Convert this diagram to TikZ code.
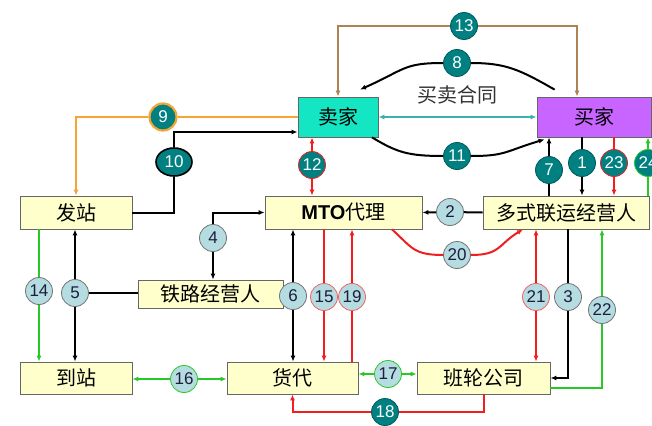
\documentclass[tikz,border=0pt]{standalone}
\usepackage{fontspec}
\setmainfont{Liberation Sans}
\newfontfamily\cjk{Noto Sans CJK SC}
\newfontfamily\latin{Liberation Sans}
\usetikzlibrary{arrows.meta,shapes.geometric,calc}

\definecolor{boxyellow}{RGB}{255,255,204}
\definecolor{sellercol}{RGB}{20,230,195}
\definecolor{buyercol}{RGB}{200,100,255}
\definecolor{darkteal}{RGB}{0,128,128}
\definecolor{lightblue}{RGB}{180,220,225}
\definecolor{arrorange}{RGB}{245,165,50}
\definecolor{arrbrown}{RGB}{175,130,85}
\definecolor{arrgreen}{RGB}{40,200,40}
\definecolor{arrred}{RGB}{240,30,30}
\definecolor{arrcyan}{RGB}{60,175,175}
\definecolor{numdark}{RGB}{30,30,60}

\tikzset{
  plainbox/.style={draw=black!60, line width=0.8pt, fill=boxyellow, minimum height=33pt,
    inner sep=0pt, font=\cjk\fontsize{20}{20}\selectfont},
  darknum/.style={circle, draw=darkteal!70!black, line width=0.8pt, fill=darkteal, text=white,
    minimum size=27pt, inner sep=0pt, font=\fontsize{17}{17}\selectfont},
  lightnum/.style={circle, draw=black!55, line width=0.8pt, fill=lightblue, text=numdark,
    minimum size=27pt, inner sep=0pt, font=\fontsize{17}{17}\selectfont},
  link/.style={line width=2pt},
  arr/.style={-{Latex[length=6pt,width=5pt]}},
  arrtwo/.style={{Latex[length=6pt,width=5pt]}-{Latex[length=6pt,width=5pt]}},
}

\begin{document}
\begin{tikzpicture}[x=1pt,y=-1pt]

  \fill[white] (0,0) rectangle (652,425);
  \useasboundingbox (0,0) rectangle (652,425);

  % boxes
  \node[plainbox, fill=sellercol, minimum width=80pt, minimum height=40pt] (seller) at (338,117) {卖家};
  \node[plainbox, fill=buyercol, minimum width=114pt, minimum height=40pt] (buyer) at (594,117) {买家};
  \node[plainbox, minimum width=112pt] (fazhan) at (76,212.5) {发站};
  \node[plainbox, minimum width=157pt] (mto) at (343.5,212.5) {{\latin\bfseries MTO}代理};
  \node[plainbox, minimum width=166pt] (duoshi) at (566,212.5) {多式联运经营人};
  \node[plainbox, minimum width=145pt, minimum height=28pt] (tielu) at (210.5,294) {铁路经营人};
  \node[plainbox, minimum width=112pt, minimum height=32pt] (daozhan) at (76,378) {到站};
  \node[plainbox, minimum width=131pt, minimum height=32pt] (huodai) at (292.5,378) {货代};
  \node[plainbox, minimum width=133pt, minimum height=32pt] (banlun) at (483.5,378) {班轮公司};

  \node[font=\cjk\fontsize{20}{20}\selectfont, text=black!80] (contract) at (457,95) {买卖合同};

  % numbers
  \node[darknum] (n13) at (464,26) {13};
  \node[darknum] (n8) at (457,63) {8};
  \node[darknum] (n11) at (457,156) {11};
  \node[darknum, draw=arrorange, line width=2.2pt] (n9) at (163,117) {9};
  \node[ellipse, draw=black, line width=1.6pt, fill=darkteal, text=white, minimum width=36pt,
    minimum height=28pt, inner sep=0pt, font=\fontsize{17}{17}\selectfont] (n10) at (174,162) {10};
  \node[darknum, draw=arrred] (n12) at (312,165) {12};
  \node[darknum] (n7) at (549,170) {7};
  \node[darknum] (n1) at (582,163) {1};
  \node[darknum, draw=arrred] (n23) at (614,163) {23};
  \node[darknum, draw=arrgreen] (n24) at (648,163) {24};
  \node[lightnum] (n2) at (450,212) {2};
  \node[lightnum] (n20) at (457,255) {20};
  \node[lightnum] (n4) at (213,238) {4};
  \node[lightnum] (n5) at (75,293) {5};
  \node[lightnum] (n14) at (39,291) {14};
  \node[lightnum] (n6) at (293,296) {6};
  \node[lightnum, draw=arrred!70] (n15) at (324,297) {15};
  \node[lightnum, draw=arrred!70] (n19) at (352,297) {19};
  \node[lightnum, draw=arrred!70] (n21) at (536,297) {21};
  \node[lightnum] (n3) at (568,297) {3};
  \node[lightnum] (n22) at (602,310) {22};
  \node[lightnum, draw=arrgreen] (n16) at (184,379) {16};
  \node[lightnum, draw=arrgreen] (n17) at (388,374) {17};
  \node[darknum] (n18) at (385,412) {18};

  % seller / buyer
  \draw[link, arrbrown, arr] (n13) -| (seller.north);
  \draw[link, arrbrown, arr] (n13) -| ([xshift=-17pt]buyer.north);
  \coordinate (s8) at ([xshift=18pt,yshift=7pt]buyer.north west);
  \coordinate (e8) at ([xshift=22pt,yshift=7pt]seller.north);
  \draw[link] (s8) .. controls +(-35,-20) and +(35,0) .. (n8.east);
  \draw[link, arr] (n8.west) .. controls +(-40,0) and +(45,-20) .. (e8);
  \draw[line width=1.5pt, arrcyan, arrtwo] (seller.east) -- (buyer.west);
  \coordinate (s11) at ([xshift=34pt]seller.south);
  \coordinate (e11) at ([xshift=8pt,yshift=-2pt]buyer.south west);
  \draw[link] (s11) .. controls +(25,15) and +(-35,0) .. (n11.west);
  \draw[link, arr] (n11.east) .. controls +(35,0) and +(-40,12) .. (e11);

  % left side
  \draw[link, arrorange] (seller.west) -- (n9);
  \draw[link, arrorange, arr] (n9) -| (fazhan.north);
  \draw[link] (fazhan.east) -| (n10);
  \draw[link, arr] (n10) |- ([yshift=-15pt]seller.west);
  \draw[link, arrred, arr] (n12) -- (seller.south -| n12);
  \draw[link, arrred, arr] (n12) -- (mto.north -| n12);

  % buyer / operator
  \draw[link] (duoshi.north -| n7) -- (n7);
  \draw[link, arr] (n7) -- (buyer.south -| n7);
  \draw[link] (buyer.south -| n1) -- (n1);
  \draw[link, arr] (n1) -- (duoshi.north -| n1);
  \draw[link, arrred] (buyer.south -| n23) -- (n23);
  \draw[link, arrred, arr] (n23) -- (duoshi.north -| n23);
  \draw[link, arrgreen] (duoshi.north -| n24) -- (n24);
  \draw[link, arrgreen, arr] (n24) -- (buyer.south -| n24);
  \draw[link] (duoshi.west) -- (n2);
  \draw[link, arr] (n2) -- (mto.east);
  \coordinate (s20) at ([xshift=48.5pt]mto.south);
  \coordinate (e20) at ([xshift=-43pt]duoshi.south);
  \draw[link, arrred] (s20) .. controls +(20,18) and +(-30,0) .. (n20.west);
  \draw[link, arrred, arr] (n20.east) .. controls +(30,0) and +(-25,15) .. (e20);

  % middle
  \draw[link, arr] (n4) -- (tielu.north -| n4);
  \draw[link, arr] (n4) |- (mto.west);
  \draw[link, arr] (n5) -- (fazhan.south -| n5);
  \draw[link, arr] (n5) -- (daozhan.north -| n5);
  \draw[link] (n5) -- (tielu.west |- n5);
  \draw[link, arrgreen] (fazhan.south -| n14) -- (n14);
  \draw[link, arrgreen, arr] (n14) -- (daozhan.north -| n14);
  \draw[link, arr] (n6) -- (mto.south -| n6);
  \draw[link, arr] (n6) -- (huodai.north -| n6);
  \draw[link, arrred] (mto.south -| n15) -- (n15);
  \draw[link, arrred, arr] (n15) -- (huodai.north -| n15);
  \draw[link, arrred] (huodai.north -| n19) -- (n19);
  \draw[link, arrred, arr] (n19) -- (mto.south -| n19);
  \draw[link, arrred, arr] (n21) -- (duoshi.south -| n21);
  \draw[link, arrred, arr] (n21) -- (banlun.north -| n21);
  \draw[link] (duoshi.south -| n3) -- (n3);
  \draw[link, arr] (n3) |- (banlun.east);
  \draw[link, arrgreen] ([yshift=-10pt]banlun.east) -| (n22);
  \draw[link, arrgreen, arr] (n22) -- (duoshi.south -| n22);

  % bottom
  \draw[link, arrgreen, arr] (n16) -- (daozhan.east |- n16);
  \draw[link, arrgreen, arr] (n16) -- (huodai.west |- n16);
  \draw[link, arrgreen, arr] (n17) -- (huodai.east |- n17);
  \draw[link, arrgreen, arr] (n17) -- (banlun.west |- n17);
  \draw[link, arrred] (banlun.south) |- (n18);
  \draw[link, arrred, arr] (n18) -| (huodai.south);

\end{tikzpicture}
\end{document}
